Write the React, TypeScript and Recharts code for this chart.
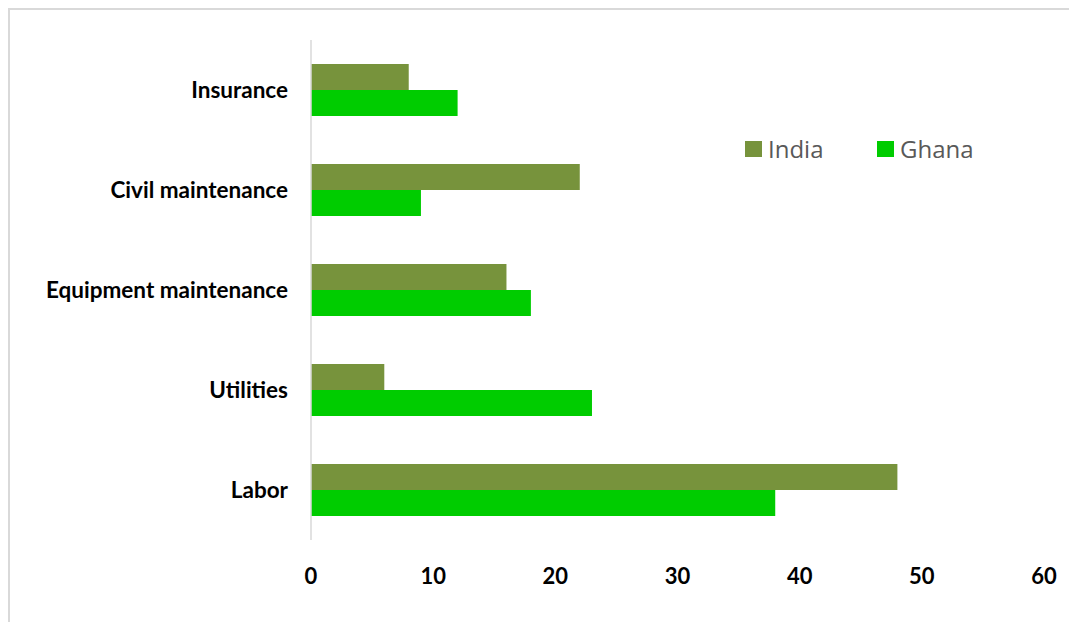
import { BarChart, Bar, XAxis, YAxis } from "recharts";

const categories = ["Insurance", "Civil maintenance", "Equipment maintenance", "Utilities", "Labor"];
const india = [8, 22, 16, 6, 48];
const ghana = [12, 9, 18, 23, 38];
const xTicks = [0, 10, 20, 30, 40, 50, 60];

const INDIA_COLOR = "#77933C";
const GHANA_COLOR = "#00CC00";

const data = categories.map((c, i) => ({ name: c, India: india[i], Ghana: ghana[i] }));

function LegendBox() {
  const items = [
    { label: "India", color: INDIA_COLOR },
    { label: "Ghana", color: GHANA_COLOR },
  ];
  return (
    <div style={{ display: "flex", alignItems: "center" }}>
      {items.map((it) => (
        <div key={it.label} style={{ display: "flex", alignItems: "center", width: 132 }}>
          <span style={{ width: 17, height: 16, background: it.color, display: "inline-block", marginRight: 6 }} />
          <span style={{ fontFamily: "'Open Sans', sans-serif", fontSize: 24, color: "#595959", lineHeight: "26px" }}>
            {it.label}
          </span>
        </div>
      ))}
    </div>
  );
}

export default function App() {
  return (
    <div style={{ position: "absolute", left: 0, top: 0, width: 1069, height: 622, background: "#fff", overflow: "hidden" }}>
      <div
        style={{
          position: "absolute",
          left: 8,
          top: 8,
          width: 1100,
          height: 700,
          border: "2px solid #d9d9d9",
        }}
      />
      <div style={{ position: "absolute", left: 0, top: 0 }}>
        <BarChart
          width={1069}
          height={622}
          data={data}
          layout="vertical"
          margin={{ top: 40, right: 25, left: 0, bottom: 0 }}
          barGap={0}
          barSize={26}
        >
          <XAxis
            type="number"
            domain={[0, 60]}
            ticks={xTicks}
            axisLine={false}
            tickLine={false}
            height={82}
            tickMargin={22}
            tick={{ fontFamily: "Lato, sans-serif", fontSize: 22, fontWeight: 700, fill: "#000" }}
          />
          <YAxis
            type="category"
            dataKey="name"
            width={311}
            axisLine={{ stroke: "#d9d9d9", strokeWidth: 1.5 }}
            tickLine={false}
            tickMargin={17}
            tick={{ fontFamily: "Lato, sans-serif", fontSize: 22.5, fontWeight: 700, fill: "#000" }}
          />
          <Bar dataKey="India" fill={INDIA_COLOR} isAnimationActive={false} />
          <Bar dataKey="Ghana" fill={GHANA_COLOR} isAnimationActive={false} />
        </BarChart>
      </div>
      <div style={{ position: "absolute", left: 745, top: 136 }}>
        <LegendBox />
      </div>
    </div>
  );
}
